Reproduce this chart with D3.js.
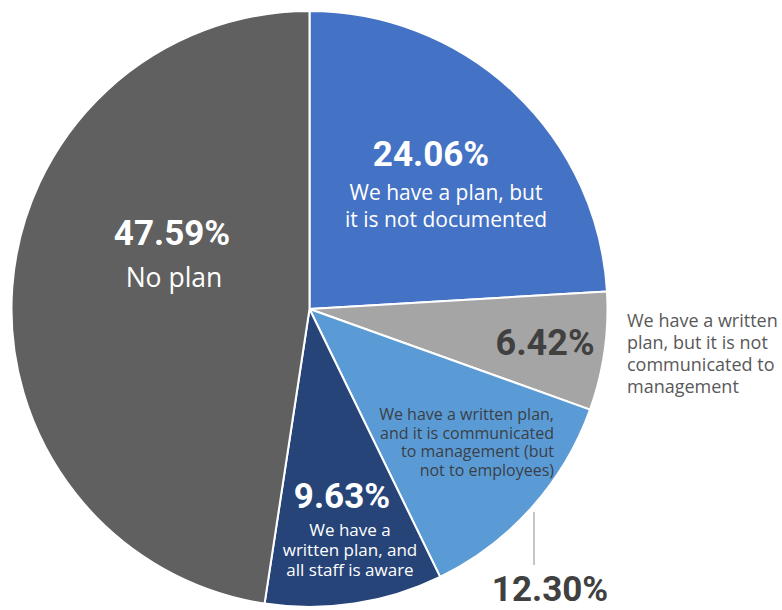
<!DOCTYPE html>
<html>
<head>
<meta charset="utf-8">
<script src="https://cdn.jsdelivr.net/npm/d3@7/dist/d3.min.js"></script>
<style>
  html, body { margin: 0; padding: 0; background: #ffffff; }
  svg { display: block; }
</style>
</head>
<body>
<svg id="chart" width="782" height="610"></svg>
<script>
// Survey answers, in clockwise order from 12 o'clock
const categories = [
  "We have a plan, but it is not documented",
  "We have a written plan, but it is not communicated to management",
  "We have a written plan, and it is communicated to management (but not to employees)",
  "We have a written plan, and all staff is aware",
  "No plan"
];
const values = [24.06, 6.42, 12.30, 9.63, 47.59];
const categoryLines = [
  ["We have a plan, but", "it is not documented"],
  ["We have a written", "plan, but it is not", "communicated to", "management"],
  ["We have a written plan,", "and it is communicated", "to management (but", "not to employees)"],
  ["We have a", "written plan, and", "all staff is aware"],
  ["No plan"]
];

// Styling and label placement per slice
const sliceColors = ["#4472C4", "#A5A5A5", "#5B9BD5", "#264478", "#606060"];
const layout = [
  { pct: [431, 166, 35, "#ffffff", "middle"], txt: [446, 200, 27, 21, "#ffffff", "middle"] },
  { pct: [545, 355, 36, "#404040", "middle"], txt: [627, 327, 22, 18, "#595959", "start"] },
  { pct: [550, 601, 35, "#404040", "middle"], txt: [554, 420, 18.5, 16, "#3a3f47", "end"], leader: [534, 512, 565] },
  { pct: [342, 508, 35, "#ffffff", "middle"], txt: [350, 536, 19.8, 17, "#ffffff", "middle"] },
  { pct: [172, 245, 35, "#ffffff", "middle"], txt: [174, 287, 30, 26.5, "#ffffff", "middle"] }
];

const cx = 309.5, cy = 309, radius = 298;
const svg = d3.select("#chart");

const pie = d3.pie().sort(null).value(d => d);
const arc = d3.arc().innerRadius(0).outerRadius(radius);
const color = d3.scaleOrdinal().domain(categories).range(sliceColors);

const arcs = pie(values);

const g = svg.append("g").attr("transform", `translate(${cx},${cy})`);
g.selectAll("path.slice")
  .data(arcs)
  .join("path")
  .attr("class", "slice")
  .attr("d", arc)
  .attr("fill", (d, i) => color(categories[i]))
  .attr("stroke", "#ffffff")
  .attr("stroke-width", 2)
  .attr("stroke-linejoin", "round");

const fmt = v => d3.format(".2f")(v) + "%";
const labels = svg.append("g");

layout.forEach((L, i) => {
  if (L.leader) {
    labels.append("line")
      .attr("x1", L.leader[0]).attr("x2", L.leader[0])
      .attr("y1", L.leader[1]).attr("y2", L.leader[2])
      .attr("stroke", "#8c8c8c").attr("stroke-width", 1);
  }
  const [px, py, ps, pc, pa] = L.pct;
  labels.append("text")
    .attr("x", px).attr("y", py)
    .attr("text-anchor", pa)
    .attr("font-family", "Roboto, 'Liberation Sans', sans-serif")
    .attr("font-weight", 700)
    .attr("font-size", ps)
    .attr("fill", pc)
    .text(fmt(values[i]));

  const [tx, ty, lh, ts, tc, ta] = L.txt;
  const t = labels.append("text")
    .attr("text-anchor", ta)
    .attr("font-family", "'Open Sans', 'Noto Sans', sans-serif")
    .attr("font-size", ts)
    .attr("fill", tc);
  categoryLines[i].forEach((line, k) => {
    t.append("tspan").attr("x", tx).attr("y", ty + k * lh).text(line);
  });
});
</script>
</body>
</html>
